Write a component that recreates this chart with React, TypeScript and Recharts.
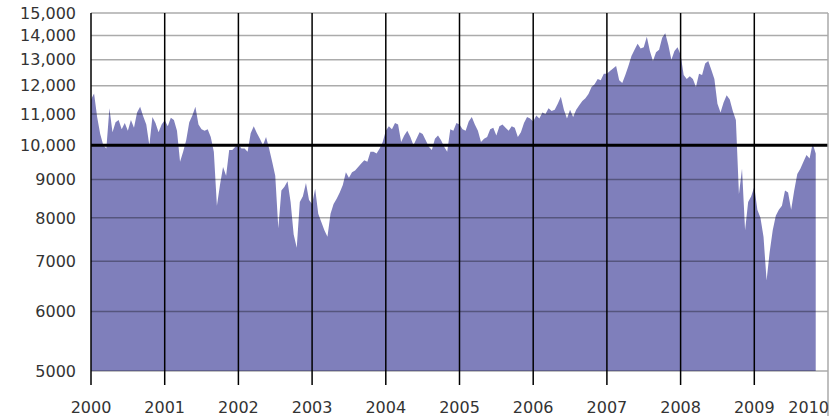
import React from "react";
import {
  AreaChart,
  Area,
  XAxis,
  YAxis,
  ReferenceLine,
} from "recharts";

// DJIA, roughly one reading per half month
const dow2000 = [11500, 11720, 10900, 10350, 10000, 9900, 11200, 10400, 10730, 10800, 10500, 10700, 10450, 10800, 10550, 11050, 11250, 10930, 10650, 10000, 10900, 10700, 10400, 10650];
const dow2001 = [10790, 10600, 10880, 10800, 10450, 9500, 9800, 10150, 10730, 10950, 11250, 10650, 10500, 10450, 10500, 10250, 9800, 8300, 8850, 9350, 9100, 9850, 9850, 9950];
const dow2002 = [10020, 9900, 9900, 9800, 10370, 10600, 10380, 10200, 10000, 10250, 9900, 9500, 9100, 7750, 8700, 8800, 8950, 8400, 7600, 7300, 8400, 8550, 8900, 8450];
const dow2003 = [8350, 8750, 8100, 7900, 7700, 7550, 8100, 8350, 8480, 8650, 8850, 9200, 9050, 9200, 9250, 9350, 9450, 9550, 9500, 9800, 9800, 9750, 9900, 10100];
const dow2004 = [10450, 10600, 10500, 10700, 10650, 10100, 10300, 10450, 10250, 10000, 10200, 10400, 10350, 10150, 9950, 9850, 10200, 10300, 10150, 9950, 9800, 10500, 10450, 10700];
const dow2005 = [10650, 10500, 10450, 10750, 10900, 10650, 10450, 10100, 10200, 10250, 10500, 10550, 10300, 10600, 10650, 10550, 10450, 10600, 10550, 10250, 10400, 10700, 10900, 10850];
const dow2006 = [10750, 10950, 10850, 11050, 11000, 11200, 11100, 11150, 11350, 11600, 11150, 10850, 11150, 10900, 11150, 11300, 11450, 11550, 11700, 11950, 12050, 12250, 12200, 12450];
const dow2007 = [12450, 12550, 12650, 12750, 12200, 12100, 12400, 12750, 13150, 13400, 13650, 13450, 13500, 13950, 13350, 12950, 13300, 13400, 13900, 14100, 13600, 13000, 13350, 13500];
const dow2008 = [13200, 12400, 12250, 12350, 12250, 11950, 12450, 12400, 12850, 12950, 12600, 12250, 11350, 11050, 11400, 11650, 11500, 11100, 10800, 8600, 9300, 7700, 8400, 8550];
const dow2009 = [8800, 8200, 8000, 7550, 6600, 7200, 7700, 8050, 8200, 8300, 8700, 8650, 8200, 8700, 9150, 9300, 9500, 9700, 9600, 10050, 9750];

const years = [2000, 2001, 2002, 2003, 2004, 2005, 2006, 2007, 2008, 2009];
const series = [dow2000, dow2001, dow2002, dow2003, dow2004, dow2005, dow2006, dow2007, dow2008, dow2009];

const xTicks = [2000, 2001, 2002, 2003, 2004, 2005, 2006, 2007, 2008, 2009, 2010];
const yTicks = [5000, 6000, 7000, 8000, 9000, 10000, 11000, 12000, 13000, 14000, 15000];

const data = years.flatMap((yr, k) =>
  series[k].map((v, i) => ({ t: yr + i / 24, v }))
);

const font = "DejaVu Sans, sans-serif";
const labelColor = "#333";

const fmtY = (v: number) => (v >= 10000 ? v.toLocaleString("en-US") : String(v));

const YearTick = (props: any) => {
  const { x, y, payload } = props;
  const last = payload.value === 2010;
  return (
    <g>
      <line
        x1={x}
        x2={x}
        y1={y}
        y2={last ? 416 : y + 14}
        stroke={last ? "#aaa" : "#000"}
        strokeWidth={1.5}
      />
      <text
        x={last ? x + 1 : x}
        y={y + 42}
        textAnchor={last ? "end" : "middle"}
        fill={labelColor}
        fontSize={16}
        fontFamily={font}
      >
        {payload.value}
      </text>
    </g>
  );
};

export default function App() {
  return (
    <div style={{ position: "absolute", left: 0, top: 0, width: 840, height: 416, background: "#fff" }}>
      <AreaChart
        width={840}
        height={416}
        data={data}
        margin={{ top: 13, right: 12, left: 0, bottom: 0 }}
      >
        <XAxis
          dataKey="t"
          type="number"
          domain={[2000, 2010]}
          ticks={xTicks}
          interval={0}
          axisLine={false}
          tickLine={false}
          tickSize={0}
          tickMargin={0}
          height={45}
          tick={<YearTick />}
        />
        <YAxis
          type="number"
          scale="log"
          domain={[5000, 15000]}
          ticks={yTicks}
          interval={0}
          allowDataOverflow
          axisLine={false}
          tickLine={false}
          tickSize={0}
          tickMargin={15}
          width={91}
          tickFormatter={fmtY}
          tick={{ fill: labelColor, fontSize: 16, fontFamily: font }}
        />
        <Area
          type="linear"
          dataKey="v"
          baseValue={4950}
          stroke="none"
          fill="#7f7fbb"
          fillOpacity={1}
          dot={false}
          activeDot={false}
          isAnimationActive={false}
        />
        {yTicks.map((v) => (
          <ReferenceLine
            key={"y" + v}
            y={v}
            stroke="#000"
            strokeOpacity={v === 10000 ? 1 : 0.33}
            strokeWidth={v === 10000 ? 3 : 1.5}
          />
        ))}
        {xTicks.map((t) => (
          <ReferenceLine
            key={"x" + t}
            x={t}
            stroke={t === 2010 ? "#aaa" : "#000"}
            strokeWidth={1.5}
          />
        ))}
      </AreaChart>
    </div>
  );
}
